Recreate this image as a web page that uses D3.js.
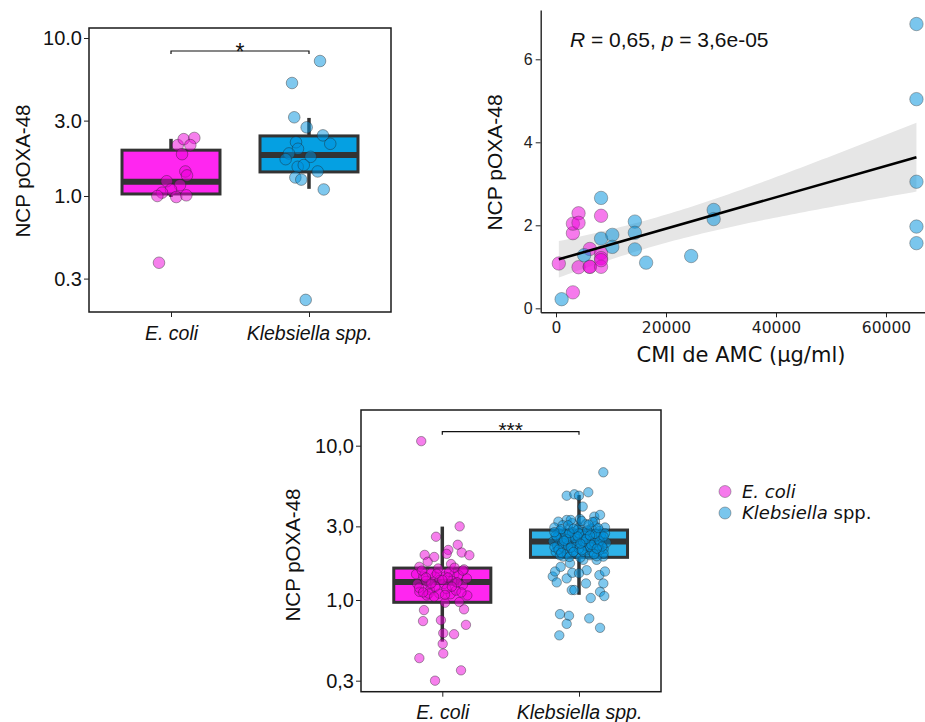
<!DOCTYPE html>
<html>
<head>
<meta charset="utf-8">
<script src="https://cdn.jsdelivr.net/npm/d3@7"></script>
<style>
  body { margin: 0; background: #fff; }
  svg { display: block; }
</style>
</head>
<body>
<svg id="fig" width="925" height="722"></svg>
<script>
// ---------- data ----------
const groups = ["E. coli", "Klebsiella spp."];

// Panel A: NCP per isolate (log axis), horizontal jitter in category units
const ncpTicksA = [0.3, 1, 3, 10];
const ncpTickLabelsA = ["0.3", "1.0", "3.0", "10.0"];
const ecoliA = [2.10, 2.29, 2.33, 2.10, 1.84, 1.43, 1.35, 1.24, 1.17, 1.10, 1.05, 1.00, 0.985, 1.01, 0.378];
const ecoliAJitter = [0.049, 0.092, 0.169, 0.140, 0.080, 0.104, 0.116, -0.031, 0.065, 0.0, -0.065, -0.099, 0.038, 0.111, -0.087];
const klebA = [7.15, 5.19, 3.15, 2.72, 2.42, 2.14, 2.19, 1.99, 1.86, 1.71, 1.77, 1.53, 1.57, 1.43, 1.31, 1.27, 1.10, 0.22];
const klebAJitter = [0.080, -0.123, -0.107, -0.017, 0.101, 0.154, -0.094, -0.080, -0.145, -0.169, 0.012, -0.082, -0.038, 0.063, -0.099, -0.056, 0.107, -0.024];
// box statistics: [lower whisker, Q1, median, Q3, upper whisker]
const ecoliABox = [0.985, 1.03, 1.23, 1.95, 2.30];
const klebABox = [1.11, 1.42, 1.82, 2.40, 3.12];

// Panel B: CMI de AMC vs NCP
const cmiTicks = [0, 20000, 40000, 60000];
const ncpTicksB = [0, 2, 4, 6];
const ecoliCmi = [512, 3072, 3072, 3072, 4096, 4096, 4096, 6144, 6144, 6144, 8192, 8192, 8192, 8192, 8192];
const ecoliNcp = [1.08, 0.385, 1.81, 2.04, 2.29, 2.06, 0.99, 1.43, 1.00, 1.00, 2.23, 1.33, 1.21, 1.00, 1.16];
const klebCmi = [1024, 5120, 8192, 8192, 10240, 10240, 14336, 14336, 14336, 16384, 24576, 28672, 28672, 65536, 65536, 65536, 65536, 65536];
const klebNcp = [0.22, 1.28, 2.66, 1.68, 1.77, 1.48, 2.09, 1.82, 1.42, 1.10, 1.26, 2.37, 2.15, 6.85, 5.04, 3.05, 1.97, 1.57];

// Panel C: all isolates
const ncpTicksC = [0.3, 1, 3, 10];
const ncpTickLabelsC = ["0,3", "1,0", "3,0", "10,0"];
const ecoliC = [10.7, 3.0, 2.57, 2.28, 2.11, 1.96, 2.03, 1.95, 1.90, 1.99, 1.77, 1.71, 1.64, 1.58, 1.47, 1.42, 1.42, 1.42, 1.47,
  1.27, 1.27, 1.27, 1.30, 1.13, 1.16, 1.10, 1.09, 1.07, 1.07, 0.96, 0.97, 0.87, 0.86, 0.73, 0.74, 0.69, 0.61, 0.60, 0.52, 0.45,
  0.42, 0.35, 0.30, 1.55, 1.50, 1.52, 1.45, 1.35, 1.33, 1.33, 1.25, 1.22, 1.18, 1.15, 1.20, 1.60, 1.62, 1.10, 1.12, 1.38, 1.05,
  1.40, 1.48, 1.40, 1.30, 1.28, 1.35, 1.22, 1.12, 1.08, 1.55];
const ecoliCJitter = [-0.154, 0.127, -0.046, 0.113, 0.044, -0.129, 0.142, 0.198, -0.059, 0.032, -0.107, 0.064, -0.168, 0.159, -0.192,
  -0.139, -0.053, 0.020, 0.088, -0.183, -0.090, 0.012, 0.105, -0.168, -0.090, -0.022, 0.061, 0.183, -0.114, 0.020, 0.124, 0.159,
  -0.134, -0.141, -0.010, 0.173, 0.007, 0.086, 0.003, 0.007, -0.168, 0.137, -0.053, -0.15, -0.08, 0.05, 0.12, -0.02, 0.07, -0.12,
  0.15, -0.05, 0.03, 0.10, -0.17, -0.03, 0.09, -0.10, 0.14, 0.18, -0.06,
  -0.12, -0.04, 0.04, 0.11, -0.08, 0.0, 0.07, -0.14, 0.02, 0.15];
const klebC = [6.72, 4.74, 4.84, 4.74, 4.99, 4.03, 3.47, 3.56, 3.22, 3.30, 3.35, 3.22,
  1.42, 1.53, 1.64, 1.38, 1.50, 1.56, 1.28, 1.45, 1.53, 1.28, 1.16, 1.03, 1.13, 1.06, 0.81, 0.79, 0.70, 0.76, 0.66, 0.59,
  1.91, 1.73, 1.82, 1.82, 1.91, 1.16, 1.30, 1.49,
  2.95, 2.70, 3.05, 2.55, 2.85, 3.15, 2.65, 2.95, 2.45, 3.10, 2.75, 2.55, 3.00, 2.80, 2.50, 2.95,
  2.40, 2.25, 2.50, 2.15, 2.35, 2.60, 2.20, 2.40, 2.65, 2.30, 2.10, 2.40, 2.20, 2.45, 2.30, 2.15,
  2.05, 1.95, 2.20, 2.00, 1.90, 2.10, 2.00, 1.88, 2.05, 2.25, 1.95, 2.05, 1.92, 2.10, 2.00, 2.35,
  2.80, 2.45, 2.75, 2.90, 2.60, 2.30, 2.65, 2.55, 2.65, 2.55, 2.15, 2.20, 2.75, 2.35, 2.35, 2.70, 2.85, 2.60, 2.25, 2.25, 2.20,
  3.25, 3.30, 3.20,
  2.62, 2.88, 2.48, 2.18, 2.52, 2.70, 2.38, 2.82, 2.28, 2.68, 2.40, 2.58,
  2.12, 2.42, 2.72, 2.05, 2.58, 2.10, 2.48, 2.62, 1.98, 2.92, 2.22,
  2.75, 3.05, 3.08, 2.15, 2.02, 2.32, 2.90];
const klebCJitter = [0.178, -0.090, -0.034, 0.0, 0.068, 0.027, 0.112, 0.154, -0.151, -0.090, 0.007, 0.117,
  -0.192, -0.175, -0.134, -0.090, -0.049, 0.056, 0.051, 0.149, 0.190, 0.178, -0.053, 0.086, 0.154, 0.185, -0.139, -0.073, -0.090,
  0.075, 0.154, -0.144,
  -0.115, -0.066, 0.031, 0.129, 0.178, -0.034, -0.163, 0.0,
  -0.18, -0.15, -0.12, -0.10, -0.08, -0.05, -0.03, 0.00, 0.02, 0.05, 0.07, 0.10, 0.12, 0.15, 0.17, 0.19,
  -0.19, -0.16, -0.13, -0.11, -0.09, -0.06, -0.04, -0.01, 0.01, 0.04, 0.06, 0.09, 0.11, 0.14, 0.16, 0.18,
  -0.17, -0.14, -0.12, -0.09, -0.07, -0.05, -0.02, 0.01, 0.03, 0.05, 0.08, 0.10, 0.13, 0.15, 0.18, 0.20,
  -0.14, -0.07, 0.03, 0.09, 0.13, -0.02, -0.10, 0.06, 0.16, -0.16, 0.00, 0.08, -0.05, 0.11, -0.12, 0.19, -0.01, 0.04, -0.08, 0.14, -0.18,
  0.02, -0.06, 0.10,
  -0.17, -0.13, -0.09, -0.06, -0.03, 0.00, 0.03, 0.06, 0.09, 0.12, 0.15, 0.18,
  -0.15, -0.11, -0.07, -0.04, -0.01, 0.02, 0.05, 0.08, 0.11, 0.14, 0.17,
  -0.18, -0.08, 0.07, 0.13, -0.13, 0.01, -0.04];
const ecoliCBox = [0.537, 0.966, 1.31, 1.61, 2.99];
const klebCBox = [1.08, 1.89, 2.39, 2.84, 4.79];

// ---------- styles ----------
const SANS = "'Liberation Sans', Arial, Helvetica, sans-serif";
const VERD = "'DejaVu Sans', Verdana, sans-serif";
const PINK_PT = "#ed00da", BLUE_PT = "#0091dd";
const PINK_BOX = "#ff26f0";
const INK = "#333333";

const svg = d3.select("#fig");

// ---------- box + jitter panel ----------
function boxPanel(cfg) {
  const g = svg.append("g");
  const x = d3.scalePoint().domain(groups).range(cfg.xRange);
  const step = cfg.xRange[1] - cfg.xRange[0];
  const y = d3.scaleLog().domain(cfg.yDomain).range([cfg.frame.y1, cfg.frame.y0]);
  const bw = step * 0.71;

  // frame
  g.append("rect")
    .attr("x", cfg.frame.x0).attr("y", cfg.frame.y0)
    .attr("width", cfg.frame.x1 - cfg.frame.x0).attr("height", cfg.frame.y1 - cfg.frame.y0)
    .attr("fill", "none").attr("stroke", "#1a1a1a").attr("stroke-width", 1.5);

  // axes
  const ya = g.append("g").attr("transform", `translate(${cfg.frame.x0},0)`)
    .call(d3.axisLeft(y).tickValues(cfg.ticks).tickFormat((d, i) => cfg.tickLabels[i]).tickSize(5).tickPadding(2));
  ya.select(".domain").remove();
  ya.selectAll("text").attr("font-family", SANS).attr("font-size", 20).attr("fill", "#111");
  ya.selectAll("line").attr("stroke", "#222");

  const xa = g.append("g").attr("transform", `translate(0,${cfg.frame.y1})`)
    .call(d3.axisBottom(x).tickSize(5).tickPadding(cfg.xLabelPad));
  xa.select(".domain").remove();
  xa.selectAll("line").attr("stroke", "#222");
  xa.selectAll("text").attr("font-family", SANS).attr("font-size", 19.5).attr("font-style", "italic").attr("fill", "#111");

  // y title
  g.append("text")
    .attr("transform", `translate(${cfg.titlePos[0]},${cfg.titlePos[1]}) rotate(-90)`)
    .attr("text-anchor", "middle").attr("dy", "0.35em")
    .attr("font-family", SANS).attr("font-size", 20.5).attr("fill", "#111")
    .text("NCP pOXA-48");

  // boxes
  cfg.boxes.forEach((b, i) => {
    const cx = x(groups[i]);
    const [lo, q1, med, q3, hi] = b;
    g.append("line").attr("x1", cx).attr("x2", cx).attr("y1", y(lo)).attr("y2", y(hi))
      .attr("stroke", INK).attr("stroke-width", 3.5);
    g.append("rect").attr("x", cx - bw / 2).attr("y", y(q3)).attr("width", bw).attr("height", y(q1) - y(q3))
      .attr("fill", cfg.boxFill[i]).attr("stroke", INK).attr("stroke-width", 3);
    g.append("line").attr("x1", cx - bw / 2).attr("x2", cx + bw / 2).attr("y1", y(med)).attr("y2", y(med))
      .attr("stroke", INK).attr("stroke-width", 6);
  });

  // jittered points
  cfg.points.forEach((p, i) => {
    const cx = x(groups[i]);
    g.append("g").selectAll("circle").data(p.values).join("circle")
      .attr("cx", (d, k) => cx + p.jitter[k] * step)
      .attr("cy", d => y(d))
      .attr("r", cfg.r)
      .attr("fill", i === 0 ? PINK_PT : BLUE_PT).attr("fill-opacity", 0.5)
      .attr("stroke", "#222").attr("stroke-opacity", 0.45).attr("stroke-width", 0.9);
  });

  // significance bracket
  const [xa0, xa1] = [x(groups[0]), x(groups[1])];
  const by = cfg.bracketY;
  g.append("path").attr("d", `M${xa0},${by + 3}V${by}H${xa1}V${by + 3}`)
    .attr("fill", "none").attr("stroke", "#111").attr("stroke-width", 1.2);
  g.append("text").attr("x", (xa0 + xa1) / 2).attr("y", cfg.starY)
    .attr("text-anchor", "middle").attr("font-family", SANS).attr("font-size", cfg.starSize).attr("fill", "#111")
    .text(cfg.stars);
}

boxPanel({
  xRange: [171, 309],
  frame: { x0: 89, x1: 391, y0: 28, y1: 312 },
  yDomain: [0.1844, 11.57],
  ticks: ncpTicksA, tickLabels: ncpTickLabelsA,
  xLabelPad: 9,
  titlePos: [22.5, 171],
  boxes: [ecoliABox, klebABox],
  boxFill: [PINK_BOX, "#05a0e2"],
  points: [{ values: ecoliA, jitter: ecoliAJitter }, { values: klebA, jitter: klebAJitter }],
  r: 5.8,
  bracketY: 51, starY: 59.5, starSize: 23, stars: "*"
});

boxPanel({
  xRange: [442.3, 579],
  frame: { x0: 361, x1: 661, y0: 410, y1: 691.7 },
  yDomain: [0.2545, 17.03],
  ticks: ncpTicksC, tickLabels: ncpTickLabelsC,
  xLabelPad: 8,
  titlePos: [293, 555],
  boxes: [ecoliCBox, klebCBox],
  boxFill: [PINK_BOX, "#2fb2e8"],
  points: [{ values: ecoliC, jitter: ecoliCJitter }, { values: klebC, jitter: klebCJitter }],
  r: 4.7,
  bracketY: 431.7, starY: 437, starSize: 21, stars: "***"
});

// ---------- scatter with linear fit ----------
(function scatterPanel() {
  const g = svg.append("g");
  const x = d3.scaleLinear().domain([-2782, 67091]).range([540.7, 925]);
  const y = d3.scaleLinear().domain([-0.096, 7.188]).range([312.3, 10]);

  // least-squares fit with 95% confidence band
  const xs = ecoliCmi.concat(klebCmi), ys = ecoliNcp.concat(klebNcp);
  const n = xs.length;
  const mx = d3.mean(xs), my = d3.mean(ys);
  const sxx = d3.sum(xs, v => (v - mx) ** 2);
  const sxy = d3.sum(xs.map((v, i) => (v - mx) * (ys[i] - my)));
  const b1 = sxy / sxx, b0 = my - b1 * mx;
  const rss = d3.sum(xs.map((v, i) => (ys[i] - (b0 + b1 * v)) ** 2));
  const s = Math.sqrt(rss / (n - 2));
  const tcrit = 2.04;
  const [xmin, xmax] = d3.extent(xs);
  const grid = d3.range(0, 81).map(k => xmin + (xmax - xmin) * k / 80);
  const band = grid.map(v => {
    const fit = b0 + b1 * v;
    const se = s * Math.sqrt(1 / n + (v - mx) ** 2 / sxx);
    return { v, lo: fit - tcrit * se, hi: fit + tcrit * se };
  });

  g.append("path").datum(band)
    .attr("d", d3.area().x(d => x(d.v)).y0(d => y(d.lo)).y1(d => y(d.hi)))
    .attr("fill", "#e6e6e6");

  const pts = [
    ...ecoliCmi.map((c, i) => ({ c, v: ecoliNcp[i], col: PINK_PT })),
    ...klebCmi.map((c, i) => ({ c, v: klebNcp[i], col: BLUE_PT }))
  ];
  g.append("g").selectAll("circle").data(pts).join("circle")
    .attr("cx", d => x(d.c)).attr("cy", d => y(d.v)).attr("r", 6.7)
    .attr("fill", d => d.col).attr("fill-opacity", 0.52)
    .attr("stroke", "#444").attr("stroke-opacity", 0.45).attr("stroke-width", 0.9);

  g.append("line")
    .attr("x1", x(xmin)).attr("y1", y(b0 + b1 * xmin))
    .attr("x2", x(xmax)).attr("y2", y(b0 + b1 * xmax))
    .attr("stroke", "#000").attr("stroke-width", 2.6);

  // axes
  const ya = g.append("g").attr("transform", "translate(540.7,0)")
    .call(d3.axisLeft(y).tickValues(ncpTicksB).tickFormat(d3.format("d")).tickSize(5).tickSizeOuter(0).tickPadding(3));
  ya.select(".domain").attr("stroke", "#222").attr("stroke-width", 1.4);
  ya.selectAll("line").attr("stroke", "#222");
  ya.selectAll("text").attr("font-family", SANS).attr("font-size", 16).attr("fill", "#222");

  const xa = g.append("g").attr("transform", "translate(0,312.3)")
    .call(d3.axisBottom(x).tickValues(cmiTicks).tickFormat(d3.format("d")).tickSize(5).tickSizeOuter(0).tickPadding(5));
  xa.select(".domain").attr("stroke", "#222").attr("stroke-width", 1.4);
  xa.selectAll("line").attr("stroke", "#222");
  xa.selectAll("text").attr("font-family", VERD).attr("font-size", 15.5).attr("fill", "#222");

  g.append("text").attr("x", 741).attr("y", 362)
    .attr("text-anchor", "middle").attr("font-family", VERD).attr("font-size", 21).attr("fill", "#111")
    .text("CMI de AMC (µg/ml)");

  g.append("text")
    .attr("transform", "translate(495,162.5) rotate(-90)")
    .attr("text-anchor", "middle").attr("dy", "0.35em")
    .attr("font-family", SANS).attr("font-size", 21).attr("fill", "#111")
    .text("NCP pOXA-48");

  const ann = g.append("text").attr("x", 570).attr("y", 47)
    .attr("font-family", SANS).attr("font-size", 21).attr("fill", "#111");
  ann.append("tspan").attr("font-style", "italic").text("R");
  ann.append("tspan").text(" = 0,65, ");
  ann.append("tspan").attr("font-style", "italic").text("p");
  ann.append("tspan").text(" = 3,6e-05");
})();

// ---------- legend ----------
(function legend() {
  const g = svg.append("g");
  const items = [
    { col: PINK_PT, parts: [["E. coli", "italic"]], y: 491.5 },
    { col: BLUE_PT, parts: [["Klebsiella", "italic"], [" spp.", "normal"]], y: 513 }
  ];
  items.forEach(it => {
    g.append("circle").attr("cx", 725).attr("cy", it.y).attr("r", 6)
      .attr("fill", it.col).attr("fill-opacity", 0.52)
      .attr("stroke", "#444").attr("stroke-opacity", 0.45).attr("stroke-width", 0.9);
    const t = g.append("text").attr("x", 742).attr("y", it.y + 6.2)
      .attr("font-family", VERD).attr("font-size", 18).attr("fill", "#111");
    it.parts.forEach(([s, st]) => t.append("tspan").attr("font-style", st).text(s));
  });
})();
</script>
</body>
</html>
